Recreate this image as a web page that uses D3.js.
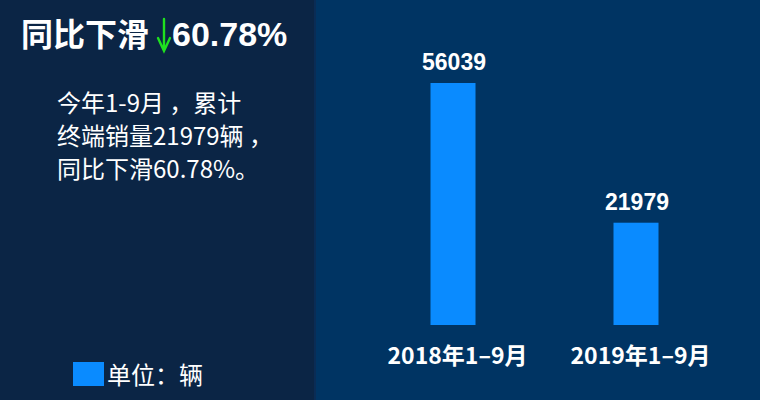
<!DOCTYPE html>
<html><head><meta charset="utf-8">
<script src="https://cdn.jsdelivr.net/npm/d3@7"></script>
<style>html,body{margin:0;padding:0;background:#003463;}svg{display:block;}</style>
</head><body>
<svg id="c" width="760" height="400"></svg>
<script>
const categories = ["2018年1–9月", "2019年1–9月"];
const values = [56039, 21979];
const titleText = "同比下滑";
const titleNumber = "60.78%";
const bodyLines = ["今年1-9月 ，累计", "终端销量21979辆 ，", "同比下滑60.78%。"];
const legendLabel = "单位：辆";
const yDomain = [-2960, 56039];

const svg = d3.select("#c");
const CJK = "'Noto Sans CJK SC','Microsoft YaHei',sans-serif";
const LAT = "'Liberation Sans',Arial,sans-serif";

// panels
svg.append("rect").attr("x",0).attr("y",0).attr("width",760).attr("height",400).attr("fill","#003463");
svg.append("rect").attr("x",0).attr("y",0).attr("width",315).attr("height",400).attr("fill","#0b2545");
svg.append("rect").attr("x",314).attr("y",0).attr("width",2).attr("height",400).attr("fill","#0a2c55");

// title
const t = svg.append("text").attr("x",21).attr("y",46).attr("fill","#fff")
  .attr("font-weight","bold");
t.append("tspan").attr("font-family",CJK).attr("font-size",32).text(titleText);
t.append("tspan").attr("font-family",LAT).attr("font-size",34).attr("dx",23).text(titleNumber);
// green arrow
svg.append("path").attr("d","M164,19 L164,50 M158,38 L164,51 L170,38")
  .attr("fill","none").attr("stroke","#1fe01f").attr("stroke-width",2.4).attr("stroke-linecap","round");

// body text
svg.append("g").selectAll("text").data(bodyLines).join("text")
  .attr("x",57).attr("y",(d,i)=>112+i*33)
  .attr("fill","#fff").attr("font-family",CJK).attr("font-size",24)
  .text(d=>d);

// legend
svg.append("rect").attr("x",73).attr("y",362).attr("width",31).attr("height",24).attr("fill","#0a8bff");
svg.append("text").attr("x",107).attr("y",384).attr("fill","#fff")
  .attr("font-family",CJK).attr("font-size",24).text(legendLabel);

// chart
const x = d3.scalePoint().domain(categories).range([453, 636]);
const y = d3.scaleLinear().domain(yDomain).range([325, 83]);
const barW = 45;

svg.append("g").selectAll("rect").data(values).join("rect")
  .attr("x",(d,i)=>x(categories[i])-barW/2)
  .attr("y",d=>y(d))
  .attr("width",barW)
  .attr("height",d=>y(yDomain[0])-y(d))
  .attr("fill","#0a8bff");

svg.append("g").selectAll("text").data(values).join("text")
  .attr("x",(d,i)=>x(categories[i])+1)
  .attr("y",d=>y(d)-13)
  .attr("text-anchor","middle").attr("fill","#fff")
  .attr("font-family",LAT).attr("font-weight","bold").attr("font-size",23)
  .text(d=>d);

// category axis (no line / ticks)
const ax = svg.append("g").attr("transform","translate(4,0)")
  .call(d3.axisBottom(x).tickSize(0).tickPadding(0));
ax.select(".domain").remove();
ax.selectAll("text").attr("y",364).attr("dy",0)
  .attr("fill","#fff").attr("font-family",CJK).attr("font-weight","bold").attr("font-size",23);
</script>
</body></html>
